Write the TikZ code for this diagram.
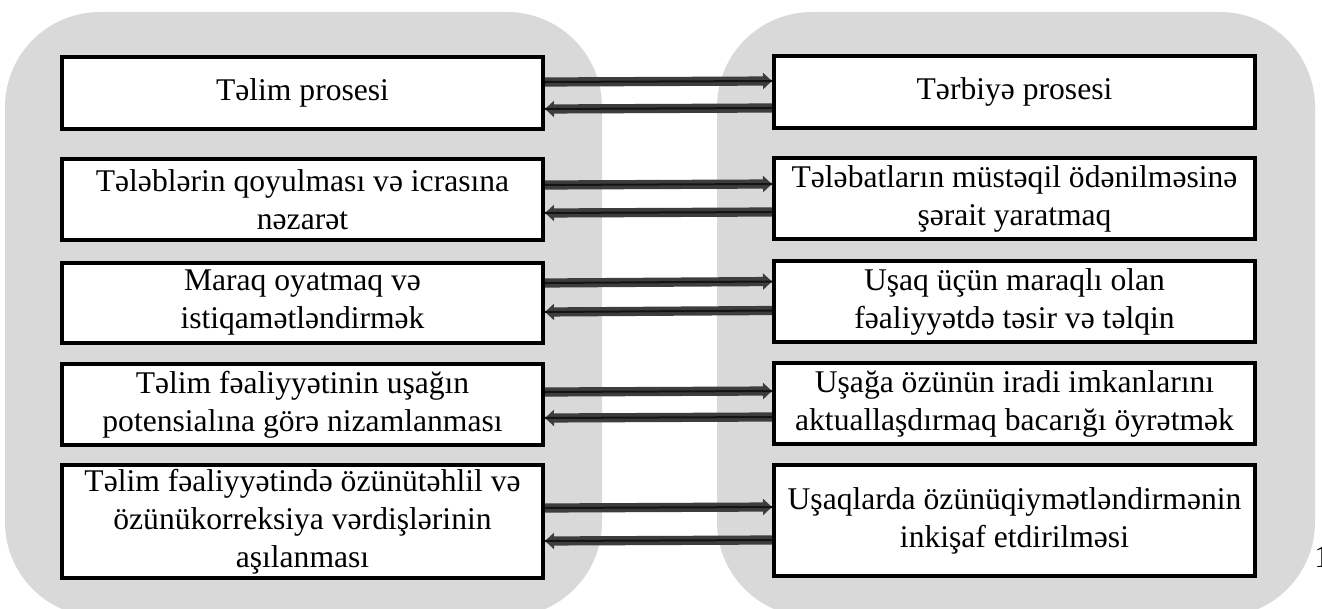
\documentclass[tikz,border=0pt]{standalone}
\usepackage{fontspec}
\setmainfont{Liberation Serif}
\usetikzlibrary{arrows.meta}

\begin{document}
\begin{tikzpicture}[x=0.5pt, y=-0.5pt]
    \tikzstyle{panel} = [fill=gray!30, rounded corners=47.5pt]
    \tikzstyle{stepbox} = [rectangle, draw, line width=2pt, fill=white, inner sep=2pt, minimum width=240.5pt, align=center, font=\fontsize{15.8}{19}\selectfont]
    \tikzstyle{arrowbar} = [draw=black!76, line width=4.6pt, -{Triangle[length=4.5pt, width=8pt]}, postaction={draw=black!92, line width=1pt, -}]

    \useasboundingbox (0,0) rectangle (1322,609);

    % Background panels
    \fill[panel] (5,12) rectangle (602,617);
    \fill[panel] (717,12) rectangle (1315,617);

    % Left column
    \node[stepbox, minimum height=36pt] (l1) at (302.5,93) {Təlim prosesi};
    \node[stepbox, minimum height=40.5pt] (l2) at (302.5,199.5) {Tələblərin qoyulması və icrasına\\nəzarət};
    \node[stepbox, minimum height=40pt] (l3) at (302.5,303) {Maraq oyatmaq və\\istiqamətləndirmək};
    \node[stepbox, minimum height=40.5pt] (l4) at (302.5,404.5) {Təlim fəaliyyətinin uşağın\\potensialına görə nizamlanması};
    \node[stepbox, minimum height=55.5pt] (l5) at (302.5,521.5) {Təlim fəaliyyətində özünütəhlil və\\özünükorreksiya vərdişlərinin\\aşılanması};

    % Right column
    \node[stepbox, minimum height=36pt] (r1) at (1014.5,92) {Tərbiyə prosesi};
    \node[stepbox, minimum height=40.5pt] (r2) at (1014.5,198.5) {Tələbatların müstəqil ödənilməsinə\\şərait yaratmaq};
    \node[stepbox, minimum height=40pt] (r3) at (1014.5,301.5) {Uşaq üçün maraqlı olan\\fəaliyyətdə təsir və təlqin};
    \node[stepbox, minimum height=40.5pt] (r4) at (1014.5,403.5) {Uşağa özünün iradi imkanlarını\\aktuallaşdırmaq bacarığı öyrətmək};
    \node[stepbox, minimum height=55.5pt] (r5) at (1014.5,520.5) {Uşaqlarda özünüqiymətləndirmənin\\inkişaf etdirilməsi};

    % Two-way arrows
    \foreach \i/\a/\b in {1/5.5/-8, 2/7.25/-6.75, 3/10/-4.5, 4/6.25/-6.75, 5/6.75/-9.75} {
        \draw[arrowbar] ([yshift=\a pt]l\i.east) -- ([yshift=\a pt]r\i.west);
        \draw[arrowbar] ([yshift=\b pt]r\i.west) -- ([yshift=\b pt]l\i.east);
    }

    % Page number
    \node[anchor=base west, inner sep=0pt, font=\fontsize{15.8}{19}\selectfont] (pgnum) at (1314,567) {1};

\end{tikzpicture}
\end{document}
